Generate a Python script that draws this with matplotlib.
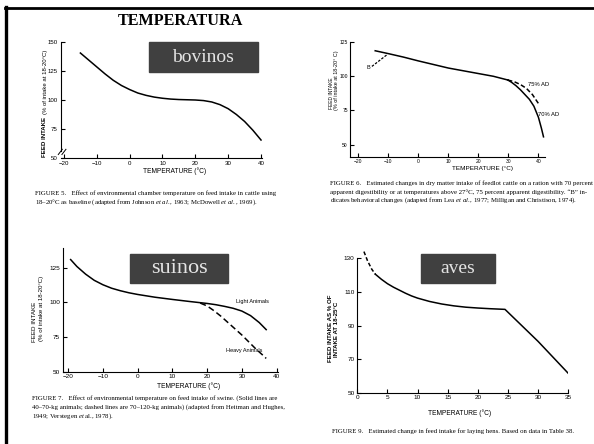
import matplotlib
matplotlib.use("Agg")
import matplotlib.pyplot as plt
from matplotlib.patches import Rectangle
from matplotlib.lines import Line2D

W, H = 594, 444

# bovinos (fig 5)
cattle_t = [-15, -12.5, -10, -7.5, -5, -2.5, 0, 2.5, 5, 7.5, 10, 12.5, 15, 17.5,
            20, 22.5, 25, 27.5, 30, 32.5, 35, 37.5, 40]
cattle_v = [140.5, 134.5, 128.5, 122.5, 117, 112.5, 109, 106, 104, 102.5, 101.5, 100.8,
            100.4, 100.2, 100, 99.5, 98.3, 96, 92.5, 87.5, 81.5, 74, 65.5]

# feedlot cattle (fig 6)
feedlot_t = [-14.4, -10, -5, 0, 5, 10, 15, 20, 25, 29.8]
feedlot_v = [118.4, 116.3, 113.8, 111, 108.4, 105.8, 103.8, 101.8, 99.8, 97.1]
ad75_t = [29.8, 32, 34, 36, 38, 40]
ad75_v = [97.1, 95.8, 93.8, 91, 86.5, 80]
ad70_t = [29.8, 31, 32.5, 34, 35.5, 37, 38.5, 40, 41, 41.7]
ad70_v = [97.1, 95.5, 93, 90, 86.5, 83, 78, 70, 62, 55.7]
behav_t = [-15.5, -10.3]
behav_v = [107, 115.8]

# suinos (fig 7)
light_t = [-19.3, -17.5, -15, -12.5, -10, -7.5, -5, -2.5, 0, 5, 10, 15, 20, 22.5,
           25, 27.5, 30, 32.5, 35, 37]
light_v = [131, 126, 120.5, 116, 112.8, 110.3, 108.5, 107, 105.8, 103.8, 102.2, 100.7,
           99.3, 98.4, 97.2, 95.8, 93.8, 90.5, 85.5, 80.4]
heavy_t = [18, 20, 22, 24, 26, 28, 30, 32, 34, 36, 37]
heavy_v = [99.6, 97.5, 94, 90, 85.5, 81, 76.5, 71.5, 66.5, 62, 59.6]

# aves (fig 9)
hens_dash_t = [1.1, 1.7, 2.4, 3]
hens_dash_v = [134, 128.5, 123.5, 120.5]
hens_t = [3, 4, 5, 6, 7, 8, 9, 10, 12, 14, 16, 18, 20, 22, 24.5, 30, 35]
hens_v = [120.5, 117.5, 114.9, 112.8, 111, 109.2, 107.6, 106.3, 104.3, 102.8, 101.7,
          100.9, 100.4, 100, 99.6, 80.5, 61.5]

cap5 = ["FIGURE 5.   Effect of environmental chamber temperature on feed intake in cattle using",
        "18\u201320\u00b0C as baseline (adapted from Johnson $\\it{et\\ al.}$, 1963; McDowell $\\it{et\\ al.}$, 1969)."]
cap6 = ["FIGURE 6.   Estimated changes in dry matter intake of feedlot cattle on a ration with 70 percent",
        "apparent digestibility or at temperatures above 27\u00b0C, 75 percent apparent digestibility. \u201cB\u201d in-",
        "dicates behavioral changes (adapted from Lea $\\it{et\\ al.}$, 1977; Milligan and Christison, 1974)."]
cap7 = ["FIGURE 7.   Effect of environmental temperature on feed intake of swine. (Solid lines are",
        "40\u201370-kg animals; dashed lines are 70\u2013120-kg animals) (adapted from Heitman and Hughes,",
        "1949; Verstegen $\\it{et}$ al., 1978)."]
cap9 = ["FIGURE 9.   Estimated change in feed intake for laying hens. Based on data in Table 38."]

SANS = "Liberation Sans"
SERIF = "Liberation Serif"
LW = 1.1

plt.rcParams["mathtext.fontset"] = "custom"
plt.rcParams["mathtext.rm"] = "Liberation Serif"
plt.rcParams["mathtext.it"] = "Liberation Serif:italic"


def rect(x0, y0, x1, y1):
    return [x0 / W, 1 - y1 / H, (x1 - x0) / W, (y1 - y0) / H]


def fx(x):
    return x / W


def fy(y):
    return 1 - y / H


def style_axes(ax, xlim, ylim, xticks, yticks, size=4.6, pad=2):
    ax.set_xlim(*xlim)
    ax.set_ylim(*ylim)
    ax.set_xticks(xticks)
    ax.set_yticks(yticks)
    for s in ("top", "right"):
        ax.spines[s].set_visible(False)
    for s in ("left", "bottom"):
        ax.spines[s].set_linewidth(0.8)
    ax.tick_params(direction="in", length=3, width=0.8, pad=pad, labelsize=size)
    for lab in ax.get_xticklabels() + ax.get_yticklabels():
        lab.set_fontfamily(SANS)
    ax.patch.set_alpha(0)


def gray_box(x0, y0, x1, y1, txt, size=14):
    fig.patches.append(Rectangle((fx(x0), fy(y1)), fx(x1 - x0), (y1 - y0) / H,
                                 transform=fig.transFigure, color="#404040", zorder=5))
    fig.text(fx((x0 + x1) / 2), fy((y0 + y1) / 2), txt, family=SERIF, fontsize=size,
             color="#e4e4e4", ha="center", va="center", zorder=6)


def caption(x, ys, lines):
    for y, line in zip(ys, lines):
        fig.text(fx(x), fy(y), line, family=SERIF, fontsize=4.85, ha="left", va="center")


def ylab(x, y, txt, size, anchor="bottom", bold=False):
    fig.text(fx(x), fy(y), txt, family=SANS, fontsize=size, rotation=90,
             weight="bold" if bold else "normal", ha="center", va=anchor)


fig = plt.figure(figsize=(W / 100, H / 100), dpi=100)
fig.patch.set_facecolor("white")

# frame lines
fig.add_artist(Line2D([fx(5), 1], [fy(8), fy(8)], color="black", lw=2))
fig.add_artist(Line2D([fx(6), fx(6)], [fy(7), 0], color="black", lw=2.4))

fig.text(fx(180), fy(21), "TEMPERATURA", family=SERIF, weight="bold", fontsize=11.6,
         ha="center", va="center")

# ---- panel 1: bovinos
ax1 = fig.add_axes(rect(60.7, 42, 262, 158))
ax1.plot(cattle_t, cattle_v, color="black", lw=LW)
style_axes(ax1, (-21, 40.3), (50, 150), range(-20, 41, 10), [50, 75, 100, 125, 150], size=4.4)
ax1.spines["left"].set_bounds(56, 150)
for dx in (0.0, 0.018):
    ax1.plot([-0.012 + dx, 0.008 + dx], [0.03, 0.075], transform=ax1.transAxes,
             color="black", lw=0.7, clip_on=False)
fig.text(fx(175), fy(171), "TEMPERATURE (\u00b0C)", family=SANS, fontsize=4.8,
         ha="center", va="center")
ylab(45, 157, "FEED INTAKE", 4.4, bold=True)
ylab(45, 114, "(% of intake at 18-20\u00b0C)", 4.3)
caption(35, [192.7, 201.7], cap5)

# ---- panel 2: feedlot
ax2 = fig.add_axes(rect(350, 41.7, 545, 157))
ax2.plot(feedlot_t, feedlot_v, color="black", lw=LW)
ax2.plot(ad75_t, ad75_v, color="black", lw=LW, ls=(0, (3, 1.6)))
ax2.plot(ad70_t, ad70_v, color="black", lw=LW)
ax2.plot(behav_t, behav_v, color="black", lw=0.9, ls=(0, (2, 1.2)))
ax2.text(behav_t[0] - 0.6, behav_v[0] - 1, "B", family=SANS, fontsize=4, ha="right", va="center")
ax2.text(36.6, 94, "75% AD", family=SANS, fontsize=4.2, ha="left", va="center")
ax2.text(39.9, 71.6, "70% AD", family=SANS, fontsize=4.2, ha="left", va="center")
style_axes(ax2, (-22.8, 42.2), (41, 125), range(-20, 41, 10), [50, 75, 100, 125],
           size=3.6, pad=1.6)
fig.text(fx(483), fy(168), "TEMPERATURE (\u00b0C)", family=SANS, fontsize=4.6,
         ha="center", va="center")
ylab(331.5, 109, "FEED INTAKE", 3.5)
ylab(336.5, 110, "(% of intake at 18-20\u00b0 C)", 3.9)
caption(330, [182.7, 191.7, 200], cap6)

# ---- panel 3: suinos
ax3 = fig.add_axes(rect(63, 248.5, 278, 371.7))
ax3.plot(light_t, light_v, color="black", lw=LW)
ax3.plot(heavy_t, heavy_v, color="black", lw=LW, ls=(0, (4, 2.2)))
ax3.text(28.2, 98.8, "Light Animals", family=SANS, fontsize=4, ha="left", va="bottom")
ax3.text(25.5, 65.4, "Heavy Animals", family=SANS, fontsize=4, ha="left", va="center")
style_axes(ax3, (-21.5, 40.4), (50, 139), range(-20, 41, 10), [50, 75, 100, 125])
fig.text(fx(189), fy(385.7), "TEMPERATURE (\u00b0C)", family=SANS, fontsize=4.8,
         ha="center", va="center")
ylab(35, 342, "FEED INTAKE", 4.5)
ylab(42, 341, "(% of intake at 18-20\u00b0C)", 4.4)
caption(32, [398.3, 406.7, 416], cap7)

# ---- panel 4: aves
ax4 = fig.add_axes(rect(357.3, 258.3, 568.3, 392.7))
ax4.plot(hens_dash_t, hens_dash_v, color="black", lw=LW, ls=(0, (2.5, 1.5)), clip_on=False)
ax4.plot(hens_t, hens_v, color="black", lw=LW)
style_axes(ax4, (0, 35), (50, 130), range(0, 36, 5), [50, 70, 90, 110, 130])
fig.text(fx(460), fy(412.7), "TEMPERATURE (\u00b0C)", family=SANS, fontsize=4.8,
         ha="center", va="center")
ylab(330, 328, "FEED INTAKE AS % OF", 4.4, anchor="center", bold=True)
ylab(336.7, 329, "INTAKE AT 18-25\u00b0C", 4.4, anchor="center", bold=True)
caption(331.7, [430.7], cap9)

gray_box(149, 42, 258, 72, "bovinos")
gray_box(130, 254, 228, 283, "suinos", size=16)
gray_box(421, 254, 495, 283, "aves")

fig.savefig("out.png", dpi=100)
